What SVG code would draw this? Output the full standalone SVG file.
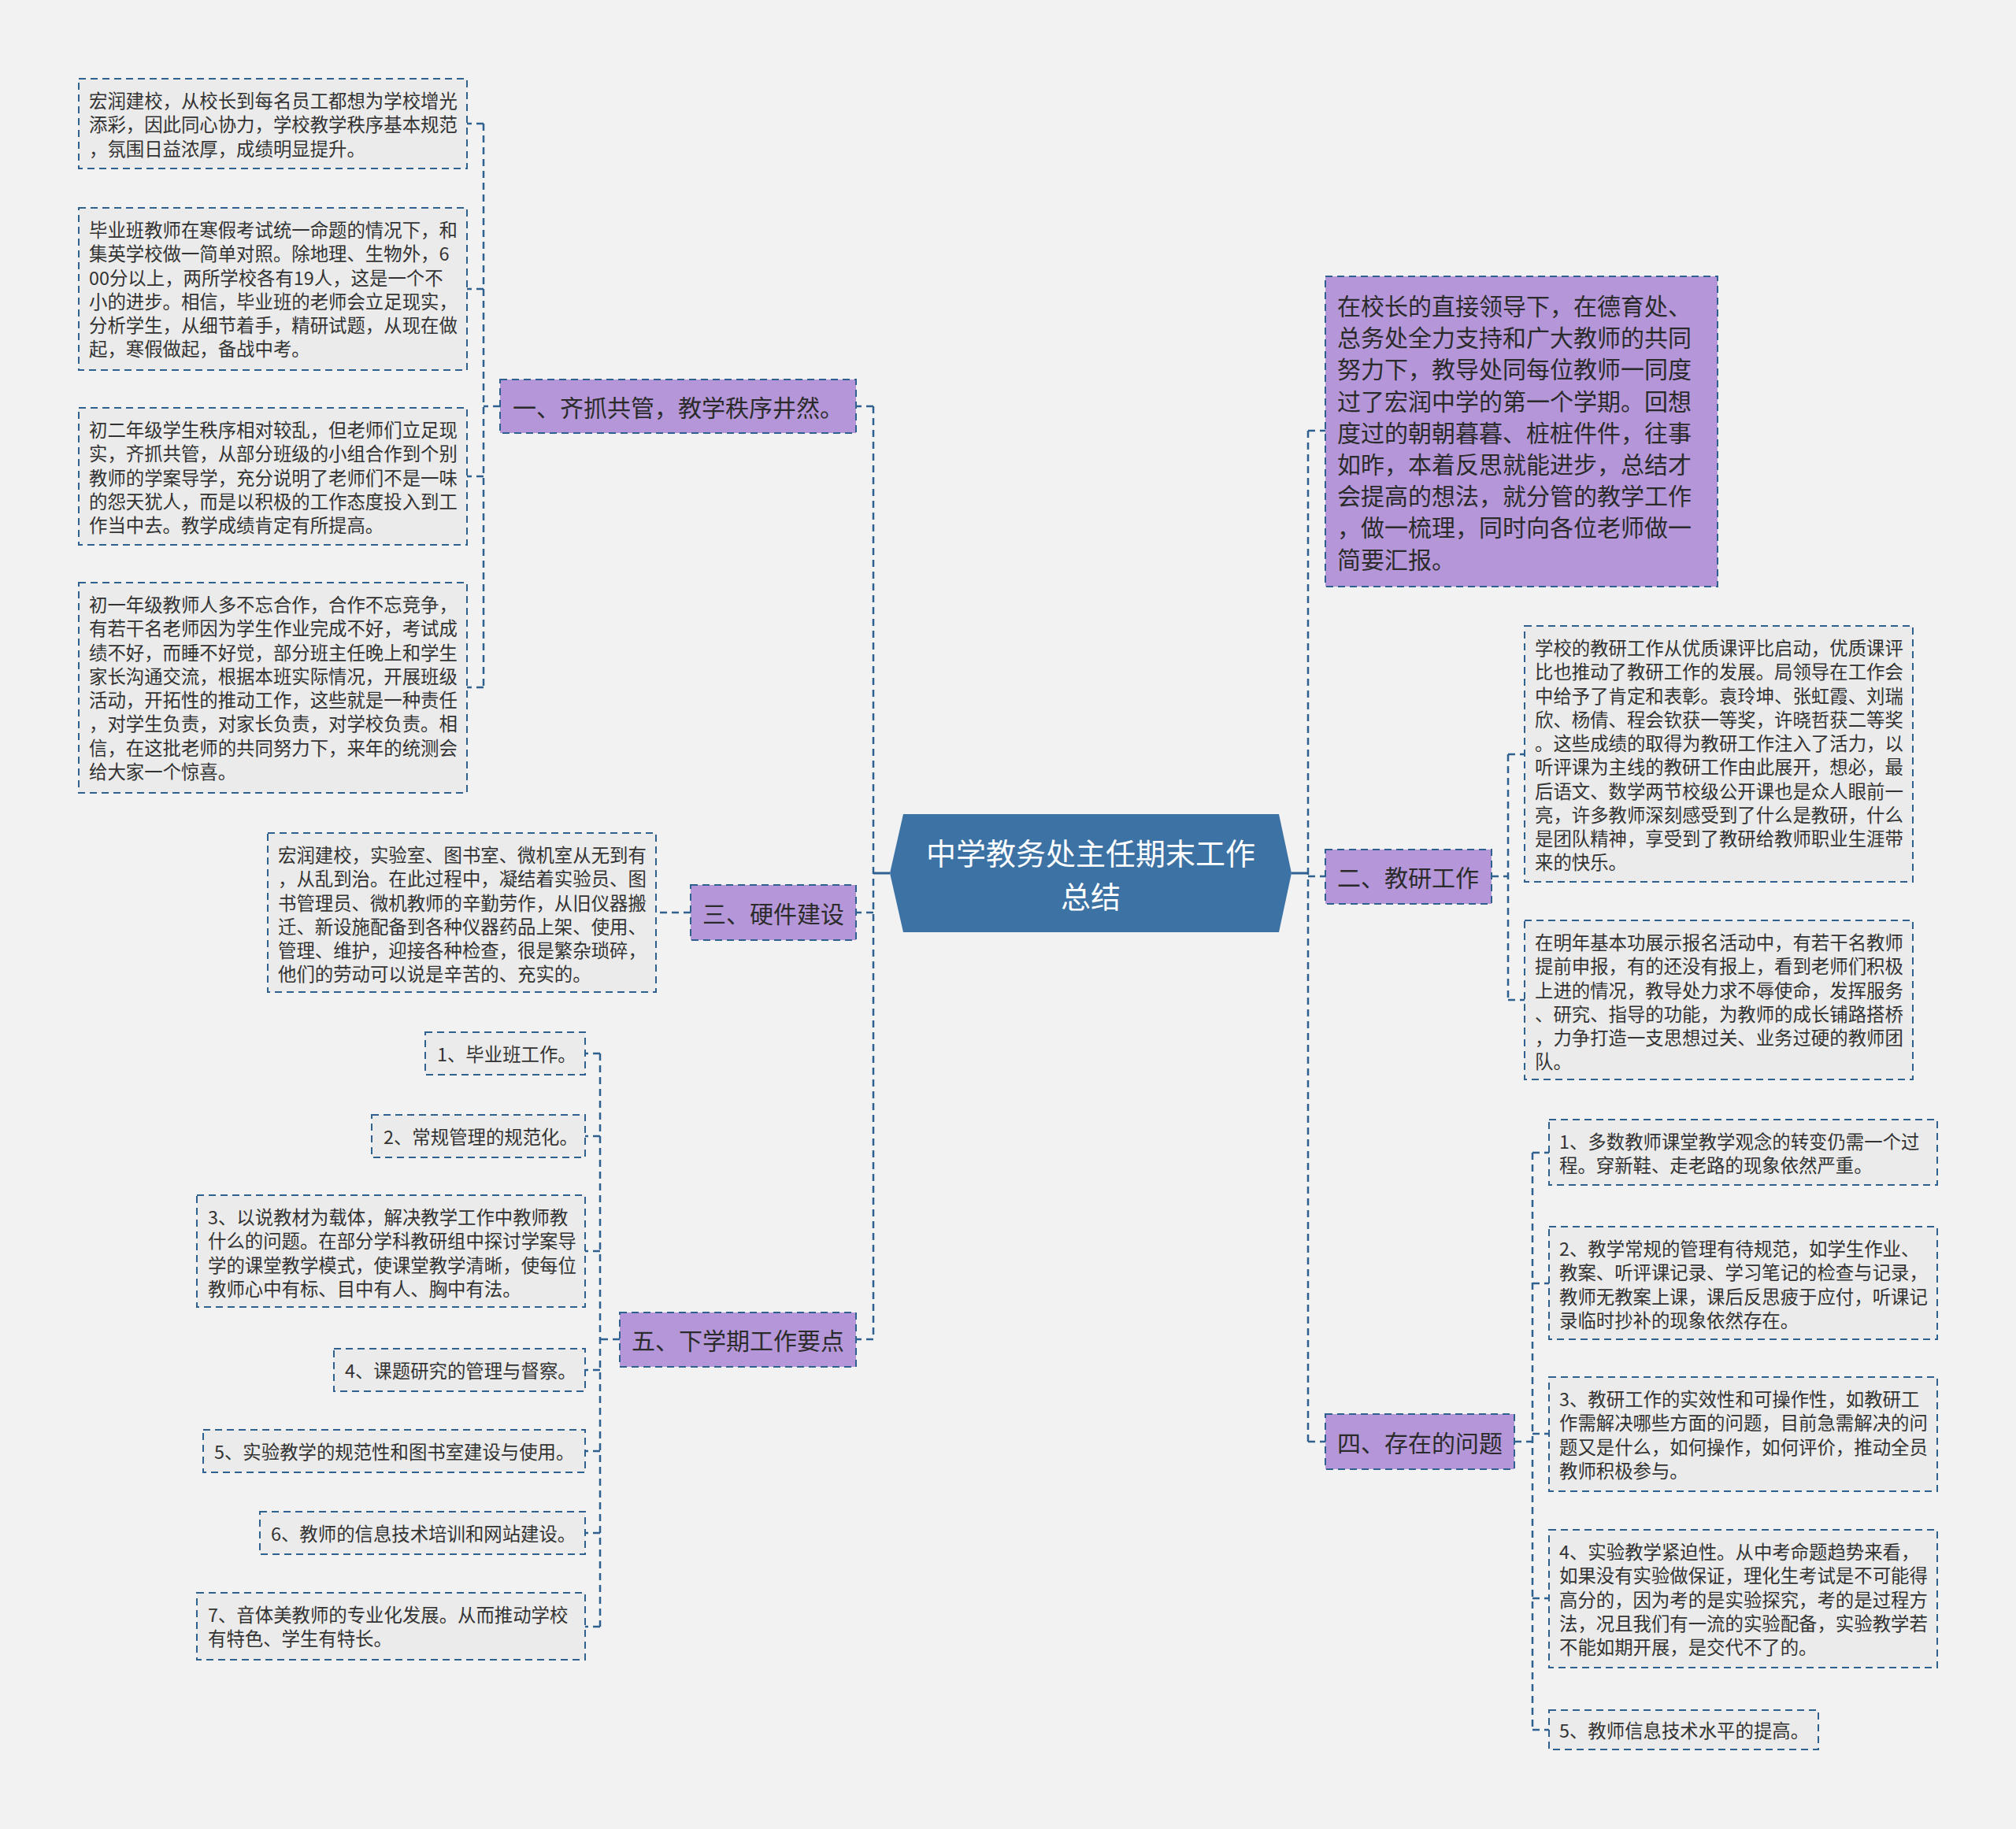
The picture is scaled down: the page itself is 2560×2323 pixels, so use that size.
<svg xmlns="http://www.w3.org/2000/svg" width="2560" height="2323" viewBox="0 0 2560 2323">
<style>
text{font-family:"Noto Sans CJK SC","Noto Sans",sans-serif;dominant-baseline:central}
.leaf rect{fill:#ebebeb;stroke:#2f6190;stroke-width:2;stroke-dasharray:9 6}
.leaf text{font-size:23.4px;fill:#333}
.br rect{fill:#b597d9;stroke:#2f6190;stroke-width:2;stroke-dasharray:9 6}
.br text{font-size:30px;fill:#2b2b2b;text-anchor:middle}
.big text{text-anchor:start}
.conn path{fill:none;stroke:#2f6190;stroke-width:2.5;stroke-dasharray:9 6}
.conn path.solid{stroke-dasharray:none;stroke-width:3}
</style>
<rect width="2560" height="2323" fill="#f2f2f2"/>
<g class="conn" id="connectors">
<path class="solid" d="M1130,1109 H1109"/>
<path class="solid" d="M1640,1109 H1661"/>
<path d="M1109,516 V1701"/>
<path d="M1109,516 H1087"/>
<path d="M1109,1159 H1087"/>
<path d="M1109,1701 H1087"/>
<path d="M1661,547 V1831"/>
<path d="M1661,547 H1683"/>
<path d="M1661,1113 H1683"/>
<path d="M1661,1831 H1683"/>
<path d="M635,516 H614"/>
<path d="M614,157 V873"/>
<path d="M614,157 H593"/>
<path d="M614,367 H593"/>
<path d="M614,605 H593"/>
<path d="M614,873 H593"/>
<path d="M877,1159 H833"/>
<path d="M787,1701 H762"/>
<path d="M762,1338 V2066"/>
<path d="M762,1338 H743"/>
<path d="M762,1443 H743"/>
<path d="M762,1589 H743"/>
<path d="M762,1740 H743"/>
<path d="M762,1843 H743"/>
<path d="M762,1947 H743"/>
<path d="M762,2066 H743"/>
<path d="M1894,1113 H1915"/>
<path d="M1915,958 V1270"/>
<path d="M1915,958 H1936"/>
<path d="M1915,1270 H1936"/>
<path d="M1923,1831 H1946"/>
<path d="M1946,1464 V2197"/>
<path d="M1946,1464 H1967"/>
<path d="M1946,1630 H1967"/>
<path d="M1946,1821 H1967"/>
<path d="M1946,2030 H1967"/>
<path d="M1946,2197 H1967"/>
</g>
<g id="root">
<polygon points="1130,1109 1147,1034 1624,1034 1640,1109 1624,1184 1147,1184" fill="#3d72a4"/>
<text x="1385" y="1081" font-size="38" fill="#fff" text-anchor="middle">中学教务处主任期末工作</text>
<text x="1385" y="1136" font-size="38" fill="#fff" text-anchor="middle">总结</text>
</g>
<g id="b1" class="br"><rect x="635" y="482" width="452" height="68"/><text x="861" y="516">一、齐抓共管，教学秩序井然。</text></g>
<g id="b3" class="br"><rect x="877" y="1124" width="210" height="70"/><text x="982" y="1159">三、硬件建设</text></g>
<g id="b5" class="br"><rect x="787" y="1667" width="300" height="69"/><text x="937" y="1701">五、下学期工作要点</text></g>
<g id="b2" class="br"><rect x="1683" y="1079" width="211" height="69"/><text x="1788" y="1113">二、教研工作</text></g>
<g id="b4" class="br"><rect x="1683" y="1796" width="240" height="70"/><text x="1803" y="1831">四、存在的问题</text></g>
<g id="intro" class="br big"><rect x="1683" y="351" width="498" height="394"/>
<text x="1698" y="387">在校长的直接领导下，在德育处、</text>
<text x="1698" y="427">总务处全力支持和广大教师的共同</text>
<text x="1698" y="467">努力下，教导处同每位教师一同度</text>
<text x="1698" y="508">过了宏润中学的第一个学期。回想</text>
<text x="1698" y="548">度过的朝朝暮暮、桩桩件件，往事</text>
<text x="1698" y="588">如昨，本着反思就能进步，总结才</text>
<text x="1698" y="628">会提高的想法，就分管的教学工作</text>
<text x="1698" y="668">，做一梳理，同时向各位老师做一</text>
<text x="1698" y="709">简要汇报。</text>
</g>
<g id="l1" class="leaf"><rect x="100" y="100" width="493" height="114"/>
<text x="113" y="127">宏润建校，从校长到每名员工都想为学校增光</text>
<text x="113" y="157">添彩，因此同心协力，学校教学秩序基本规范</text>
<text x="113" y="188">，氛围日益浓厚，成绩明显提升。</text>
</g>
<g id="l2" class="leaf"><rect x="100" y="264" width="493" height="206"/>
<text x="113" y="291">毕业班教师在寒假考试统一命题的情况下，和</text>
<text x="113" y="321">集英学校做一简单对照。除地理、生物外，6</text>
<text x="113" y="352">00分以上，两所学校各有19人，这是一个不</text>
<text x="113" y="382">小的进步。相信，毕业班的老师会立足现实，</text>
<text x="113" y="412">分析学生，从细节着手，精研试题，从现在做</text>
<text x="113" y="442">起，寒假做起，备战中考。</text>
</g>
<g id="l3" class="leaf"><rect x="100" y="518" width="493" height="174"/>
<text x="113" y="545">初二年级学生秩序相对较乱，但老师们立足现</text>
<text x="113" y="575">实，齐抓共管，从部分班级的小组合作到个别</text>
<text x="113" y="606">教师的学案导学，充分说明了老师们不是一味</text>
<text x="113" y="636">的怨天犹人，而是以积极的工作态度投入到工</text>
<text x="113" y="666">作当中去。教学成绩肯定有所提高。</text>
</g>
<g id="l4" class="leaf"><rect x="100" y="740" width="493" height="267"/>
<text x="113" y="767">初一年级教师人多不忘合作，合作不忘竞争，</text>
<text x="113" y="797">有若干名老师因为学生作业完成不好，考试成</text>
<text x="113" y="828">绩不好，而睡不好觉，部分班主任晚上和学生</text>
<text x="113" y="858">家长沟通交流，根据本班实际情况，开展班级</text>
<text x="113" y="888">活动，开拓性的推动工作，这些就是一种责任</text>
<text x="113" y="918">，对学生负责，对家长负责，对学校负责。相</text>
<text x="113" y="949">信，在这批老师的共同努力下，来年的统测会</text>
<text x="113" y="979">给大家一个惊喜。</text>
</g>
<g id="l5" class="leaf"><rect x="340" y="1058" width="493" height="202"/>
<text x="353" y="1085">宏润建校，实验室、图书室、微机室从无到有</text>
<text x="353" y="1115">，从乱到治。在此过程中，凝结着实验员、图</text>
<text x="353" y="1146">书管理员、微机教师的辛勤劳作，从旧仪器搬</text>
<text x="353" y="1176">迁、新设施配备到各种仪器药品上架、使用、</text>
<text x="353" y="1206">管理、维护，迎接各种检查，很是繁杂琐碎，</text>
<text x="353" y="1236">他们的劳动可以说是辛苦的、充实的。</text>
</g>
<g id="w1" class="leaf"><rect x="540" y="1311" width="203" height="54"/><text x="555" y="1338">1、毕业班工作。</text></g>
<g id="w2" class="leaf"><rect x="472" y="1416" width="271" height="54"/><text x="487" y="1443">2、常规管理的规范化。</text></g>
<g id="w3" class="leaf"><rect x="250" y="1518" width="493" height="142"/>
<text x="264" y="1545">3、以说教材为载体，解决教学工作中教师教</text>
<text x="264" y="1575">什么的问题。在部分学科教研组中探讨学案导</text>
<text x="264" y="1606">学的课堂教学模式，使课堂教学清晰，使每位</text>
<text x="264" y="1636">教师心中有标、目中有人、胸中有法。</text>
</g>
<g id="w4" class="leaf"><rect x="424" y="1713" width="319" height="54"/><text x="438" y="1740">4、课题研究的管理与督察。</text></g>
<g id="w5" class="leaf"><rect x="258" y="1816" width="485" height="54"/><text x="272" y="1843">5、实验教学的规范性和图书室建设与使用。</text></g>
<g id="w6" class="leaf"><rect x="330" y="1920" width="413" height="54"/><text x="344" y="1947">6、教师的信息技术培训和网站建设。</text></g>
<g id="w7" class="leaf"><rect x="250" y="2023" width="493" height="85"/>
<text x="264" y="2050">7、音体美教师的专业化发展。从而推动学校</text>
<text x="264" y="2080">有特色、学生有特长。</text>
</g>
<g id="r1" class="leaf"><rect x="1936" y="795" width="493" height="325"/>
<text x="1949" y="822">学校的教研工作从优质课评比启动，优质课评</text>
<text x="1949" y="852">比也推动了教研工作的发展。局领导在工作会</text>
<text x="1949" y="883">中给予了肯定和表彰。袁玲坤、张虹霞、刘瑞</text>
<text x="1949" y="913">欣、杨倩、程会钦获一等奖，许晓哲获二等奖</text>
<text x="1949" y="943">。这些成绩的取得为教研工作注入了活力，以</text>
<text x="1949" y="973">听评课为主线的教研工作由此展开，想必，最</text>
<text x="1949" y="1004">后语文、数学两节校级公开课也是众人眼前一</text>
<text x="1949" y="1034">亮，许多教师深刻感受到了什么是教研，什么</text>
<text x="1949" y="1064">是团队精神，享受到了教研给教师职业生涯带</text>
<text x="1949" y="1094">来的快乐。</text>
</g>
<g id="r2" class="leaf"><rect x="1936" y="1169" width="493" height="202"/>
<text x="1949" y="1196">在明年基本功展示报名活动中，有若干名教师</text>
<text x="1949" y="1226">提前申报，有的还没有报上，看到老师们积极</text>
<text x="1949" y="1257">上进的情况，教导处力求不辱使命，发挥服务</text>
<text x="1949" y="1287">、研究、指导的功能，为教师的成长铺路搭桥</text>
<text x="1949" y="1317">，力争打造一支思想过关、业务过硬的教师团</text>
<text x="1949" y="1347">队。</text>
</g>
<g id="p1" class="leaf"><rect x="1967" y="1422" width="493" height="83"/>
<text x="1980" y="1449">1、多数教师课堂教学观念的转变仍需一个过</text>
<text x="1980" y="1479">程。穿新鞋、走老路的现象依然严重。</text>
</g>
<g id="p2" class="leaf"><rect x="1967" y="1558" width="493" height="143"/>
<text x="1980" y="1585">2、教学常规的管理有待规范，如学生作业、</text>
<text x="1980" y="1615">教案、听评课记录、学习笔记的检查与记录，</text>
<text x="1980" y="1646">教师无教案上课，课后反思疲于应付，听课记</text>
<text x="1980" y="1676">录临时抄补的现象依然存在。</text>
</g>
<g id="p3" class="leaf"><rect x="1967" y="1749" width="493" height="145"/>
<text x="1980" y="1776">3、教研工作的实效性和可操作性，如教研工</text>
<text x="1980" y="1806">作需解决哪些方面的问题，目前急需解决的问</text>
<text x="1980" y="1837">题又是什么，如何操作，如何评价，推动全员</text>
<text x="1980" y="1867">教师积极参与。</text>
</g>
<g id="p4" class="leaf"><rect x="1967" y="1943" width="493" height="175"/>
<text x="1980" y="1970">4、实验教学紧迫性。从中考命题趋势来看，</text>
<text x="1980" y="2000">如果没有实验做保证，理化生考试是不可能得</text>
<text x="1980" y="2031">高分的，因为考的是实验探究，考的是过程方</text>
<text x="1980" y="2061">法，况且我们有一流的实验配备，实验教学若</text>
<text x="1980" y="2091">不能如期开展，是交代不了的。</text>
</g>
<g id="p5" class="leaf"><rect x="1967" y="2172" width="342" height="50"/><text x="1980" y="2197">5、教师信息技术水平的提高。</text></g>
</svg>
